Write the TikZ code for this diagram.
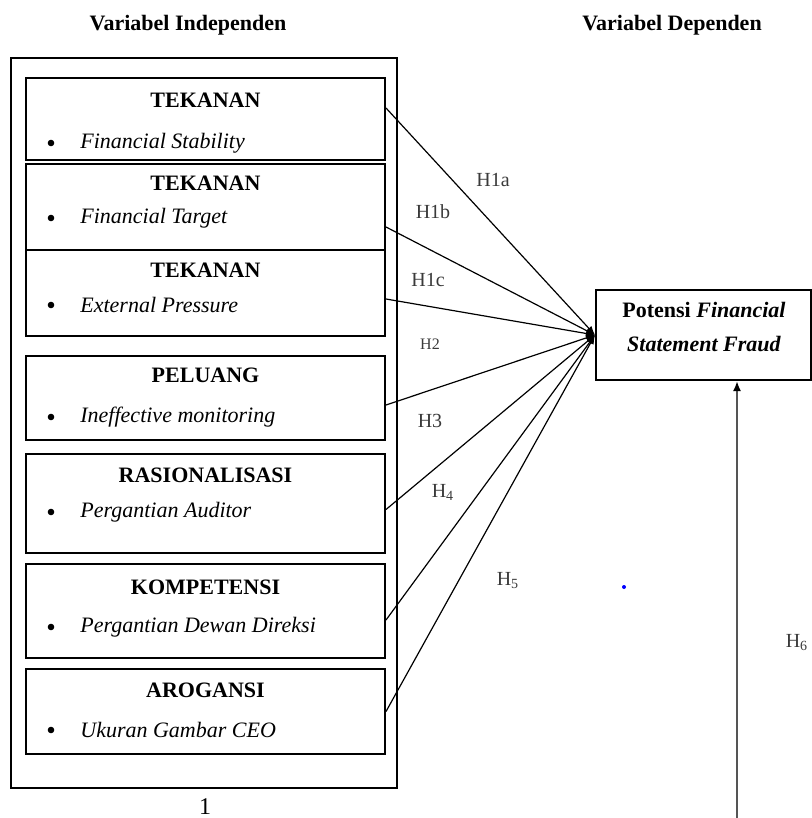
\documentclass[tikz,border=0pt]{standalone}
\usepackage{fontspec}
\setmainfont{Liberation Serif}
\usetikzlibrary{arrows.meta, positioning, calc}
\definecolor{hypGray}{HTML}{3A3A3A}
\definecolor{lineGray}{HTML}{555555}
\tikzset{
    varbox/.style={draw, line width=1pt, minimum width=179.5pt, inner sep=0pt},
    headtext/.style={font=\fontsize{11pt}{13pt}\selectfont\bfseries, inner sep=0pt},
    itemtext/.style={font=\fontsize{11pt}{13pt}\selectfont\itshape, inner sep=0pt, anchor=west},
    dottext/.style={font=\fontsize{11pt}{13pt}\selectfont, inner sep=0pt},
    bulletdot/.style={circle, fill=black, inner sep=0pt, minimum size=3.3pt},
    hyptext/.style={font=\fontsize{10pt}{12pt}\selectfont, text=hypGray, inner sep=1pt},
    hypline/.style={line width=0.6pt, -{Latex[length=4.5pt, width=3.5pt]}}
}
\newcommand{\DrawVar}[7]{
    \pgfmathsetmacro{\boxmid}{(#2+#3)/2}
    \pgfmathsetmacro{\boxht}{(#3-#2)*0.5}
    \node[varbox, minimum height=\boxht pt] (#1) at (205.5, \boxmid) {};
    \node[headtext] (#1-head) at (205.5, #6) {#4};
    \node[bulletdot] (#1-dot) at (51, #7) {};
    \node[itemtext] (#1-item) at (80, #7) {#5};
}

\begin{document}
\begin{tikzpicture}[x=0.5pt, y=-0.5pt]
    \useasboundingbox (0,0) rectangle (812,818);

    % Titles
    \node[headtext] (indep-title) at (188,25) {Variabel Independen};
    \node[headtext] (dep-title) at (672,25) {Variabel Dependen};

    % Outer frame
    \node[varbox, minimum width=193pt, minimum height=365pt] (indep) at (204,423) {};
    \node[dottext, font=\fontsize{12pt}{14pt}\selectfont] (indep-num) at (205,807) {1};

    % Independent variables
    \DrawVar{press1}{78}{160}{TEKANAN}{Financial Stability}{100}{143}
    \DrawVar{press2}{164}{250}{TEKANAN}{Financial Target}{183}{218}
    \DrawVar{press3}{250}{336}{TEKANAN}{External Pressure}{270}{305}
    \DrawVar{chance}{356}{440}{PELUANG}{Ineffective monitoring}{375}{417}
    \DrawVar{ration}{454}{553}{RASIONALISASI}{Pergantian Auditor}{475}{512}
    \DrawVar{compet}{564}{658}{KOMPETENSI}{Pergantian Dewan Direksi}{587}{627}
    \DrawVar{arrog}{669}{754}{AROGANSI}{Ukuran Gambar CEO}{690}{730}

    % Dependent variable
    \node[varbox, minimum width=107.5pt, minimum height=45pt] (fraud) at (703.5,335) {};
    \node[headtext, align=center] (fraud-text) at (704,327) {Potensi \textit{Financial}\\[4pt]\textit{Statement Fraud}};

    % Hypotheses
    \draw[hypline] ([yshift=5.5pt]press1.east) -- (fraud.west);
    \draw[hypline] ([yshift=-10pt]press2.east) -- (fraud.west);
    \draw[hypline] ([yshift=-3pt]press3.east) -- (fraud.west);
    \draw[hypline] ([yshift=-3.5pt]chance.east) -- (fraud.west);
    \draw[hypline] ([yshift=-3pt]ration.east) -- (fraud.west);
    \draw[hypline] ([yshift=-4.5pt]compet.east) -- (fraud.west);
    \draw[hypline] (arrog.east) -- (fraud.west);

    \coordinate (h6-start) at (737,818);
    \draw[line width=1pt, lineGray, -{Latex[length=5pt, width=4pt, black]}] (h6-start) -- (h6-start |- fraud.south);

    % Labels
    \node[hyptext] (h1a) at (493,180) {H1a};
    \node[hyptext] (h1b) at (433,212) {H1b};
    \node[hyptext] (h1c) at (428,280) {H1c};
    \node[hyptext, font=\fontsize{8pt}{10pt}\selectfont] (h2) at (430,344) {H2};
    \node[hyptext] (h3) at (430,421) {H3};
    \node[hyptext] (h4) at (443,492) {H\textsubscript{4}};
    \node[hyptext] (h5) at (508,581) {H\textsubscript{5}};
    \node[hyptext] (h6) at (797,643) {H\textsubscript{6}};

    \fill[blue] (624,587) circle (1pt);
\end{tikzpicture}
\end{document}
